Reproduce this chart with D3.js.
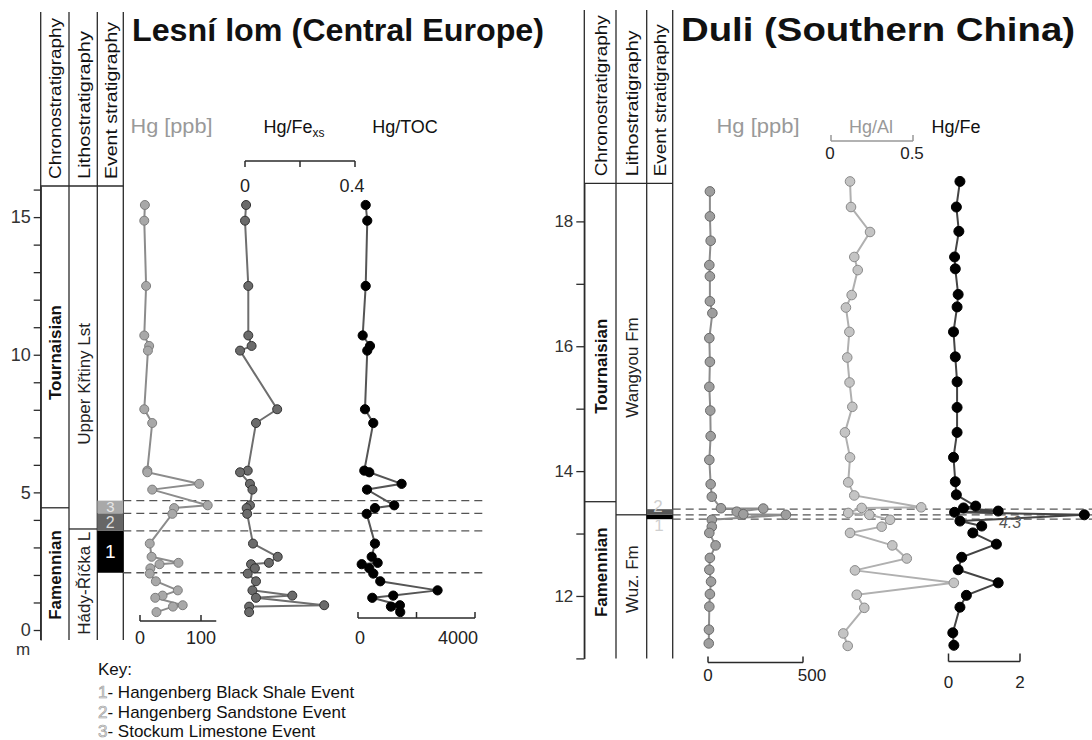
<!DOCTYPE html>
<html><head><meta charset="utf-8">
<script src="https://cdn.jsdelivr.net/npm/d3@7"></script>
<style>body{margin:0;background:#fff}</style>
</head><body><script>
// ---------------- DATA ----------------
// Lesní lom (depth in m)
const leftDepth = [15.44,14.87,12.50,10.70,10.32,10.15,8.02,7.52,5.79,5.73,5.31,5.10,4.53,4.43,4.22,3.14,2.66,2.44,2.39,2.24,2.05,1.77,1.44,1.25,1.17,0.90,0.85,0.65];
const leftHg    = [8,7,10,7,15,13,7,20,12,12,97,20,111,56,53,16,19,63,32,17,16,26,62,37,25,70,54,27];
const leftHgFe  = [0.004,0,0.012,0.012,0.024,-0.018,0.117,0.04,0.01,-0.018,0.018,0.027,0.018,0.006,0.008,0.029,0.119,0.087,0.022,0.036,0.01,0.04,0.027,0.172,0.04,0.288,0.015,0.015];
const leftHgTOC = [263,317,263,160,410,317,239,522,215,386,1491,307,1239,580,297,580,468,672,126,386,522,761,2720,1205,488,1433,1126,1444];
// Duli (depth in m)
const rightHgDepth = [18.48,18.08,17.69,17.30,17.12,16.72,16.53,16.13,15.75,15.35,14.97,14.56,14.18,13.79,13.59,13.405,13.40,13.35,13.31,13.30,13.22,13.11,13.01,12.81,12.61,12.42,12.23,12.03,11.83,11.46,11.24];
const rightHg      = [10,10,14,7,10,10,23,7,10,7,12,14,7,14,20,68,291,151,186,410,20,20,7,40,10,7,16,10,7,5,4];
const rightAlDepth = [18.64,18.23,17.83,17.43,17.22,16.82,16.62,16.23,15.82,15.42,15.03,14.62,14.22,13.82,13.61,13.42,13.41,13.33,13.30,13.22,13.11,13.01,12.81,12.60,12.41,12.21,12.02,11.81,11.40,11.20];
const rightHgAl    = [0.116,0.122,0.238,0.142,0.163,0.126,0.091,0.112,0.099,0.113,0.130,0.085,0.116,0.105,0.142,0.55,0.187,0.105,0.234,0.360,0.309,0.116,0.374,0.462,0.146,0.749,0.157,0.203,0.075,0.102];
const rightFeDepth = [18.64,18.23,17.84,17.43,17.24,16.83,16.63,16.23,15.83,15.43,15.02,14.62,14.22,13.83,13.62,13.44,13.41,13.36,13.34,13.30,13.20,13.12,13.01,12.83,12.62,12.42,12.21,12.01,11.82,11.41,11.21];
const rightHgFe    = [0.32,0.22,0.29,0.17,0.19,0.27,0.24,0.14,0.19,0.24,0.24,0.24,0.14,0.19,0.22,0.76,0.42,1.39,0.17,4.3,0.32,0.93,0.68,1.34,0.37,0.27,1.39,0.50,0.32,0.12,0.15];

const headers = ["Chronostratigraphy","Lithostratigraphy","Event stratigraphy"];
const leftUnits  = {chronoBoundary:4.44, lithoBoundary:3.67,
  chrono:[["Tournaisian",10.08],["Famennian",2.0]], litho:[["Upper Křtiny Lst",8.94],["Hády-Říčka L",1.70]]};
const rightUnits = {chronoBoundary:13.51, lithoBoundary:13.30,
  chrono:[["Tournaisian",15.68],["Famennian",12.38]], litho:[["Wangyou Fm",15.66],["Wuz. Fm",12.27]]};
const leftEvents  = [{n:"1",top:3.60,bot:2.08},{n:"2",top:4.24,bot:3.60},{n:"3",top:4.70,bot:4.24}];
const rightEvents = [{n:"1",top:13.30,bot:13.23},{n:"2",top:13.39,bot:13.30}];
const keyLabels = ["Hangenberg Black Shale Event","Hangenberg Sandstone Event","Stockum Limestone Event"];

// ---------------- DRAW ----------------
const FONT = '"Liberation Sans", Arial, Helvetica, sans-serif';
const svg = d3.select("body").append("svg").attr("width",1092).attr("height",740)
  .style("font-family",FONT).style("background","#fff");
const ink = "#2a2a2a";

const yL = d3.scaleLinear().domain([-0.363,16.13]).range([640,186]);
const yR = d3.scaleLinear().domain([11,18.61]).range([658.4,183.3]);

// titles
svg.append("text").attr("x",132).attr("y",41).attr("font-size",32).attr("font-weight","bold").attr("fill","#111")
  .attr("textLength",412).attr("lengthAdjust","spacingAndGlyphs").text("Lesní lom (Central Europe)");
svg.append("text").attr("x",681).attr("y",41).attr("font-size",33).attr("font-weight","bold").attr("fill","#111")
  .attr("textLength",394).attr("lengthAdjust","spacingAndGlyphs").text("Duli (Southern China)");

function stratColumns(cfg){
  const {xs, top, headBot, y, units, events, evColors, headLens} = cfg;
  const g = svg.append("g");
  const bot = y.range()[0];
  xs.forEach(x=> g.append("line").attr("x1",x).attr("x2",x).attr("y1",top).attr("y2",bot).attr("stroke",ink).attr("stroke-width",1.3));
  g.append("line").attr("x1",xs[0]).attr("x2",xs[3]).attr("y1",headBot).attr("y2",headBot).attr("stroke",ink).attr("stroke-width",1.3);
  headers.forEach((h,i)=>{
    const cx=(xs[i]+xs[i+1])/2+1;
    g.append("text").attr("transform",`translate(${cx},${headBot-7}) rotate(-90)`)
      .attr("font-size",16).attr("dominant-baseline","central").attr("fill","#111")
      .attr("textLength",headLens[i]).attr("lengthAdjust","spacingAndGlyphs").text(h);
  });
  g.append("line").attr("x1",xs[0]).attr("x2",xs[1]).attr("y1",y(units.chronoBoundary)).attr("y2",y(units.chronoBoundary)).attr("stroke",ink).attr("stroke-width",1.3);
  g.append("line").attr("x1",xs[1]).attr("x2",xs[2]).attr("y1",y(units.lithoBoundary)).attr("y2",y(units.lithoBoundary)).attr("stroke",ink).attr("stroke-width",1.3);
  units.chrono.forEach(([t,d])=> g.append("text").attr("transform",`translate(${(xs[0]+xs[1])/2+1},${y(d)}) rotate(-90)`)
     .attr("text-anchor","middle").attr("dominant-baseline","central").attr("font-size",17).attr("font-weight","bold").attr("fill","#111").text(t));
  units.litho.forEach(([t,d])=> g.append("text").attr("transform",`translate(${(xs[1]+xs[2])/2+1},${y(d)}) rotate(-90)`)
     .attr("text-anchor","middle").attr("dominant-baseline","central").attr("font-size",17).attr("fill","#222").text(t));
  events.forEach((e,i)=>{
    g.append("rect").attr("x",xs[2]).attr("width",xs[3]-xs[2]).attr("y",y(e.top)).attr("height",y(e.bot)-y(e.top)).attr("fill",evColors[i]);
  });
  return g;
}

// ---- Left stratigraphy
const gL = stratColumns({xs:[40.7,69,97.3,123.3], top:12, headBot:186, y:yL, units:leftUnits, events:leftEvents,
  evColors:["#000","#666","#a9a9a9"], headLens:[161,148,157]});
const evTextL = ["#ffffff","#dddddd","#e6e6e6"];
const evSizeL = [19,16,15];
leftEvents.forEach((e,i)=> gL.append("text").attr("x",110.3).attr("y",(yL(e.top)+yL(e.bot))/2)
  .attr("text-anchor","middle").attr("dominant-baseline","central").attr("font-size",evSizeL[i]).attr("fill",evTextL[i]).text(e.n));

// left depth axis
const axL = d3.axisLeft(yL).tickValues(d3.range(0,17)).tickFormat(d=> d%5===0? d : "").tickSizeInner(7).tickSizeOuter(0).tickPadding(3);
const gAxL = svg.append("g").attr("transform","translate(40.7,0)").call(axL);
gAxL.selectAll("text").attr("font-size",18).attr("fill","#333").attr("font-family",FONT);
gAxL.selectAll("line").attr("stroke",ink).attr("stroke-width",1.3);
gAxL.select(".domain").attr("stroke",ink).attr("stroke-width",1.3);
svg.append("text").attr("x",23).attr("y",655).attr("text-anchor","middle").attr("font-size",17).attr("fill","#333").text("m");

// ---- Right stratigraphy
const gR = stratColumns({xs:[584.3,616,646.7,672.7], top:10, headBot:183.3, y:yR, units:rightUnits, events:rightEvents,
  evColors:["#000","#555"], headLens:[161,146,152]});
gR.append("text").attr("x",659).attr("y",yR(13.30)+11).attr("text-anchor","middle").attr("dominant-baseline","central").attr("font-size",17).attr("fill","#cfcfcf").text("1");
gR.append("text").attr("x",658).attr("y",yR(13.39)-3).attr("text-anchor","middle").attr("dominant-baseline","central").attr("font-size",17).attr("fill","#cfcfcf").text("2");

const axR = d3.axisLeft(yR).tickValues(d3.range(11,19)).tickFormat(d=> d%2===0? d : "").tickSizeInner(8).tickSizeOuter(0).tickPadding(3);
const gAxR = svg.append("g").attr("transform","translate(584.3,0)").call(axR);
gAxR.selectAll("text").attr("font-size",17).attr("fill","#333").attr("font-family",FONT);
gAxR.selectAll("line").attr("stroke",ink).attr("stroke-width",1.3);
gAxR.select(".domain").attr("stroke",ink).attr("stroke-width",1.3);

// dashed event lines
[4.70,4.24,3.60,2.08].forEach(d=> svg.append("line").attr("x1",123.3).attr("x2",487).attr("y1",yL(d)).attr("y2",yL(d))
  .attr("stroke","#555").attr("stroke-width",1.3).attr("stroke-dasharray","8,5"));
[13.39,13.30,13.23].forEach(d=> svg.append("line").attr("x1",672.7).attr("x2",1092).attr("y1",yR(d)).attr("y2",yR(d))
  .attr("stroke","#555").attr("stroke-width",1.3).attr("stroke-dasharray","8,5"));

// ---- series
function series(depths, vals, x, y, st){
  const pts = depths.map((d,i)=>[x(vals[i]), y(d)]);
  svg.append("path").attr("d", d3.line()(pts)).attr("fill","none").attr("stroke",st.line).attr("stroke-width",2);
  svg.append("g").selectAll("circle").data(pts).join("circle")
    .attr("cx",p=>p[0]).attr("cy",p=>p[1]).attr("r",st.r)
    .attr("fill",st.fill).attr("stroke",st.stroke).attr("stroke-width",1);
}
const xHg  = d3.scaleLinear().domain([0,100]).range([140,201]);
const xFe  = d3.scaleLinear().domain([0,0.4]).range([245,355]);
const xTOC = d3.scaleLinear().domain([0,4000]).range([358,475]);
const xHgR = d3.scaleLinear().domain([0,500]).range([708,803]);
const xAl  = d3.scaleLinear().domain([0,0.5]).range([831,913]);
const xFeR = d3.scaleLinear().domain([0,2]).range([948.5,1020]);
const xFeRc = v => Math.min(xFeR(v), xFeR(3.8));

series(leftDepth,leftHg,xHg,yL,{line:"#8c8c8c",fill:"#a8a8a8",stroke:"#7d7d7d",r:4.5});
series(leftDepth,leftHgFe,xFe,yL,{line:"#6e6e6e",fill:"#6b6b6b",stroke:"#333",r:4.5});
series(leftDepth,leftHgTOC,xTOC,yL,{line:"#555",fill:"#000",stroke:"#000",r:4.6});
series(rightHgDepth,rightHg,xHgR,yR,{line:"#8c8c8c",fill:"#9e9e9e",stroke:"#6a6a6a",r:4.8});
series(rightAlDepth,rightHgAl,xAl,yR,{line:"#b0b0b0",fill:"#c4c4c4",stroke:"#8a8a8a",r:4.8});
series(rightFeDepth,rightHgFe,xFeRc,yR,{line:"#444",fill:"#000",stroke:"#000",r:5});
svg.append("text").attr("x",1010).attr("y",yR(13.30)+13).attr("text-anchor","middle").attr("font-size",16)
  .attr("font-style","italic").attr("fill","#555").text("4.3");

// ---- value axes
function valAxis(scale, ext, yPos, ticks, labels, opt){
  const g = svg.append("g");
  const col = opt.color||ink;
  g.append("line").attr("x1",scale(ext[0])).attr("x2",scale(ext[1])).attr("y1",yPos).attr("y2",yPos).attr("stroke",col).attr("stroke-width",opt.w||1.5);
  ticks.forEach(t=> g.append("line").attr("x1",scale(t)).attr("x2",scale(t)).attr("y1",yPos).attr("y2",yPos+opt.tick).attr("stroke",col).attr("stroke-width",opt.w||1.5));
  labels.forEach(([v,txt,dx])=> g.append("text").attr("x",scale(v)+(dx||0)).attr("y",yPos+opt.ly).attr("text-anchor","middle")
     .attr("dominant-baseline","central").attr("font-size",opt.fs||18).attr("fill","#222").text(txt));
}
valAxis(xHg,[0,125],621,[0,100],[[0,"0"],[100,"100"]],{tick:-6,ly:17});
valAxis(xTOC,[0,4000],618,[0,2000,4000],[[0,"0",2],[4000,"4000",-17]],{tick:-6,ly:20});
valAxis(xFe,[0,0.4],161,[0,0.2,0.4],[[0,"0"],[0.4,"0.4",-3]],{tick:6,ly:25});
valAxis(xHgR,[0,500],662.5,[0,500],[[0,"0"],[500,"500",9]],{tick:-6,ly:13,fs:17});
valAxis(xAl,[0,0.5],141,[0,0.5],[[0,"0",-1],[0.5,"0.5",-1]],{tick:-6,ly:12,color:"#999",fs:17});
valAxis(xFeR,[0,2],661.5,[0,2],[[0,"0"],[2,"2"]],{tick:-8,ly:21,fs:17});

// ---- series titles
function title(x, y, txt, col, fs, len, sub){
  const t = svg.append("text").attr("x",x).attr("y",y).attr("text-anchor","middle").attr("font-size",fs).attr("fill",col).text(txt);
  if(len) t.attr("textLength",len).attr("lengthAdjust","spacingAndGlyphs");
  if(sub) t.append("tspan").attr("font-size",12).attr("dy",4).text(sub);
}
title(171.5,133,"Hg [ppb]","#999",20,82);
title(294,133,"Hg/Fe","#111",18,null,"xs");
title(405,133,"Hg/TOC","#111",18);
title(758,133,"Hg [ppb]","#999",20,83);
title(871,133,"Hg/Al","#999",18);
title(956,133,"Hg/Fe","#111",18);

// ---- key
svg.append("text").attr("x",98).attr("y",675).attr("font-size",17).attr("fill","#111").text("Key:");
keyLabels.forEach((k,i)=>{
  const t = svg.append("text").attr("x",98).attr("y",698+i*19.5).attr("font-size",17).attr("fill","#111");
  t.append("tspan").attr("fill","#e0e0e0").attr("stroke","#999").attr("stroke-width",0.6).text(String(i+1));
  t.append("tspan").text("- "+k);
});
</script></body></html>
